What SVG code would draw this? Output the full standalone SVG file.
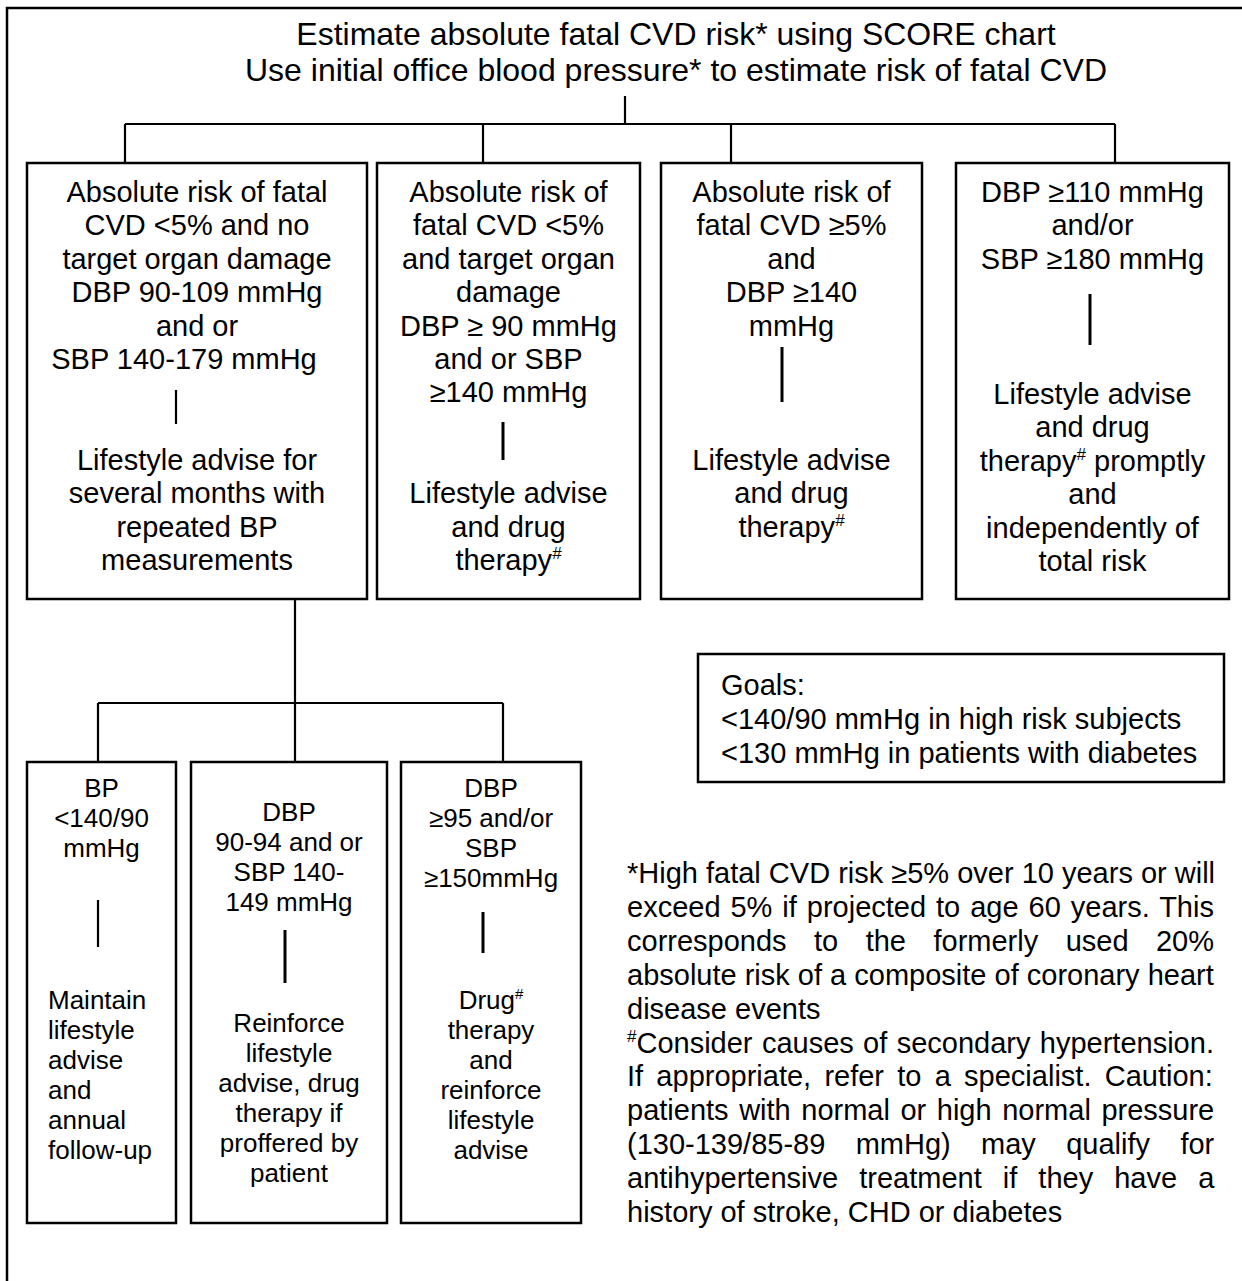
<svg xmlns="http://www.w3.org/2000/svg" width="1242" height="1281" viewBox="0 0 1242 1281">
<style>
text { font-family: "Liberation Sans", Arial, Helvetica, sans-serif; fill: #000; }
.title { font-size: 32px; text-anchor: middle; }
.t { font-size: 29px; text-anchor: middle; }
.ts { font-size: 26px; text-anchor: middle; }
.tsl { font-size: 26px; }
.tl { font-size: 29px; }
.sup { font-size: 17px; }
.sups { font-size: 15px; }
.box { fill: #fff; stroke: #000; stroke-width: 2.5; }
.frame { fill: none; stroke: #000; stroke-width: 2.5; }
.conn { fill: none; stroke: #000; stroke-width: 2.2; }
.bar { stroke: #000; stroke-width: 3; }
.bar2 { stroke: #000; stroke-width: 2.2; }
</style>
<rect width="1242" height="1281" fill="#fff"/>
<path class="frame" d="M7,1290 V8 H1250"/>

<g id="title">
  <text class="title" x="676" y="45">Estimate absolute fatal CVD risk* using SCORE chart</text>
  <text class="title" x="676" y="81">Use initial office blood pressure* to estimate risk of fatal CVD</text>
</g>

<g id="connectors">
  <path class="conn" d="M625,96 V124 M125,124 H1115 M125,124 V163 M483,124 V163 M731,124 V163 M1115,124 V163"/>
  <path class="conn" d="M295,599 V762 M98,703 H503 M98,703 V762 M503,703 V762"/>
</g>

<g id="node-low-risk">
  <rect class="box" x="27" y="163" width="340" height="436"/>
  <text class="t" x="197" y="202">Absolute risk of fatal</text>
  <text class="t" x="197" y="235.4">CVD &lt;5% and no</text>
  <text class="t" x="197" y="268.8">target organ damage</text>
  <text class="t" x="197" y="302.2">DBP 90-109 mmHg</text>
  <text class="t" x="197" y="335.6">and or</text>
  <text class="t" x="184" y="369">SBP 140-179 mmHg</text>
  <line class="bar2" x1="176" y1="390" x2="176" y2="424"/>
  <text class="t" x="197" y="470">Lifestyle advise for</text>
  <text class="t" x="197" y="503.4">several months with</text>
  <text class="t" x="197" y="536.8">repeated BP</text>
  <text class="t" x="197" y="570.2">measurements</text>
</g>

<g id="node-low-risk-tod">
  <rect class="box" x="377" y="163" width="263" height="436"/>
  <text class="t" x="508.5" y="202">Absolute risk of</text>
  <text class="t" x="508.5" y="235.4">fatal CVD &lt;5%</text>
  <text class="t" x="508.5" y="268.8">and target organ</text>
  <text class="t" x="508.5" y="302.2">damage</text>
  <text class="t" x="508.5" y="335.6">DBP ≥ 90 mmHg</text>
  <text class="t" x="508.5" y="369">and or SBP</text>
  <text class="t" x="508.5" y="402.4">≥140 mmHg</text>
  <line class="bar" x1="503" y1="422" x2="503" y2="460"/>
  <text class="t" x="508.5" y="503.4">Lifestyle advise</text>
  <text class="t" x="508.5" y="536.8">and drug</text>
  <text class="t" x="508.5" y="570.2">therapy<tspan class="sup" dy="-11">#</tspan></text>
</g>

<g id="node-high-risk">
  <rect class="box" x="661" y="163" width="261" height="436"/>
  <text class="t" x="791.5" y="202">Absolute risk of</text>
  <text class="t" x="791.5" y="235.4">fatal CVD ≥5%</text>
  <text class="t" x="791.5" y="268.8">and</text>
  <text class="t" x="791.5" y="302.2">DBP ≥140</text>
  <text class="t" x="791.5" y="335.6">mmHg</text>
  <line class="bar" x1="782" y1="347" x2="782" y2="402"/>
  <text class="t" x="791.5" y="470">Lifestyle advise</text>
  <text class="t" x="791.5" y="503.4">and drug</text>
  <text class="t" x="791.5" y="536.8">therapy<tspan class="sup" dy="-11">#</tspan></text>
</g>

<g id="node-severe">
  <rect class="box" x="956" y="163" width="273" height="436"/>
  <text class="t" x="1092.5" y="202">DBP ≥110 mmHg</text>
  <text class="t" x="1092.5" y="235.4">and/or</text>
  <text class="t" x="1092.5" y="268.8">SBP ≥180 mmHg</text>
  <line class="bar" x1="1090" y1="294" x2="1090" y2="345"/>
  <text class="t" x="1092.5" y="404">Lifestyle advise</text>
  <text class="t" x="1092.5" y="437.4">and drug</text>
  <text class="t" x="1092.5" y="470.8">therapy<tspan class="sup" dy="-11">#</tspan><tspan dy="11"> promptly</tspan></text>
  <text class="t" x="1092.5" y="504.2">and</text>
  <text class="t" x="1092.5" y="537.6">independently of</text>
  <text class="t" x="1092.5" y="571">total risk</text>
</g>

<g id="node-bp-normal">
  <rect class="box" x="27" y="762" width="149" height="461"/>
  <text class="ts" x="101.5" y="797">BP</text>
  <text class="ts" x="101.5" y="827">&lt;140/90</text>
  <text class="ts" x="101.5" y="857">mmHg</text>
  <line class="bar2" x1="98" y1="900" x2="98" y2="947"/>
  <text class="tsl" x="48" y="1009">Maintain</text>
  <text class="tsl" x="48" y="1039">lifestyle</text>
  <text class="tsl" x="48" y="1069">advise</text>
  <text class="tsl" x="48" y="1099">and</text>
  <text class="tsl" x="48" y="1129">annual</text>
  <text class="tsl" x="48" y="1159">follow-up</text>
</g>

<g id="node-bp-mild">
  <rect class="box" x="191" y="762" width="196" height="461"/>
  <text class="ts" x="289" y="821">DBP</text>
  <text class="ts" x="289" y="851">90-94 and or</text>
  <text class="ts" x="289" y="881">SBP 140-</text>
  <text class="ts" x="289" y="911">149 mmHg</text>
  <line class="bar" x1="285" y1="930" x2="285" y2="983"/>
  <text class="ts" x="289" y="1032">Reinforce</text>
  <text class="ts" x="289" y="1062">lifestyle</text>
  <text class="ts" x="289" y="1092">advise, drug</text>
  <text class="ts" x="289" y="1122">therapy if</text>
  <text class="ts" x="289" y="1152">proffered by</text>
  <text class="ts" x="289" y="1182">patient</text>
</g>

<g id="node-bp-high">
  <rect class="box" x="401" y="762" width="180" height="461"/>
  <text class="ts" x="491" y="797">DBP</text>
  <text class="ts" x="491" y="827">≥95 and/or</text>
  <text class="ts" x="491" y="857">SBP</text>
  <text class="ts" x="491" y="887">≥150mmHg</text>
  <line class="bar" x1="483" y1="912" x2="483" y2="953"/>
  <text class="ts" x="491" y="1009">Drug<tspan class="sups" dy="-10">#</tspan></text>
  <text class="ts" x="491" y="1039">therapy</text>
  <text class="ts" x="491" y="1069">and</text>
  <text class="ts" x="491" y="1099">reinforce</text>
  <text class="ts" x="491" y="1129">lifestyle</text>
  <text class="ts" x="491" y="1159">advise</text>
</g>

<g id="node-goals">
  <rect class="box" x="698" y="654" width="526" height="128"/>
  <text class="tl" x="721" y="695">Goals:</text>
  <text class="tl" x="721" y="729">&lt;140/90 mmHg in high risk subjects</text>
  <text class="tl" x="721" y="763">&lt;130 mmHg in patients with diabetes</text>
</g>

<g id="footnotes">
  <text class="tl" x="627" y="883">*High fatal CVD risk ≥5% over 10 years or will</text>
  <text class="tl" x="627" y="916.9" style="word-spacing:1.9px">exceed 5% if projected to age 60 years. This</text>
  <text class="tl" x="627" y="950.8" style="word-spacing:19.4px">corresponds to the formerly used 20%</text>
  <text class="tl" x="627" y="984.7">absolute risk of a composite of coronary heart</text>
  <text class="tl" x="627" y="1018.6">disease events</text>
  <text class="tl" x="627" y="1052.5" style="word-spacing:1.3px"><tspan class="sup" dy="-11">#</tspan><tspan dy="11">Consider causes of secondary hypertension.</tspan></text>
  <text class="tl" x="627" y="1086.4" style="word-spacing:5.2px">If appropriate, refer to a specialist. Caution:</text>
  <text class="tl" x="627" y="1120.3" style="word-spacing:2.5px">patients with normal or high normal pressure</text>
  <text class="tl" x="627" y="1154.2" style="word-spacing:22.3px">(130-139/85-89 mmHg) may qualify for</text>
  <text class="tl" x="627" y="1188.1" style="word-spacing:13px">antihypertensive treatment if they have a</text>
  <text class="tl" x="627" y="1222">history of stroke, CHD or diabetes</text>
</g>
</svg>
